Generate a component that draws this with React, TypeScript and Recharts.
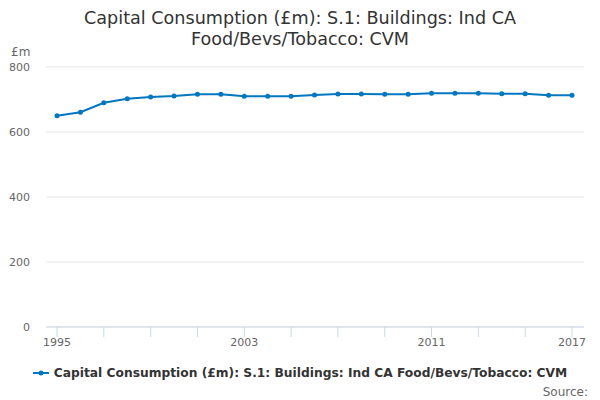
import React from 'react';
import { LineChart, Line, XAxis, YAxis, CartesianGrid } from 'recharts';

const years = [
  1995, 1996, 1997, 1998, 1999, 2000, 2001, 2002, 2003, 2004, 2005, 2006,
  2007, 2008, 2009, 2010, 2011, 2012, 2013, 2014, 2015, 2016, 2017,
];
const values = [
  650, 661, 690, 702, 708, 711, 716, 716, 710, 710, 710, 714,
  717, 717, 716, 716, 719, 719, 719, 718, 718, 713, 713,
];
const xTicks = [1995, 1997, 1999, 2001, 2003, 2005, 2007, 2009, 2011, 2013, 2015, 2017];
const xTickLabels = [1995, 2003, 2011, 2017];
const yTicks = [0, 200, 400, 600, 800];

const seriesName = 'Capital Consumption (£m): S.1: Buildings: Ind CA Food/Bevs/Tobacco: CVM';
const lineColor = '#0077c0';
const font = '"DejaVu Sans", Verdana, sans-serif';

const data = years.map((year, i) => ({ year, value: values[i] }));

const ChartLegend = () => (
  <div
    style={{
      position: 'absolute', top: 366, left: 0, width: 600,
      display: 'flex', alignItems: 'center', justifyContent: 'center',
    }}
  >
    <svg width={16} height={10} style={{ marginRight: 5 }}>
      <line x1={0} y1={5} x2={16} y2={5} stroke={lineColor} strokeWidth={2} />
      <circle cx={8} cy={5} r={2.5} fill={lineColor} />
    </svg>
    <span style={{ fontSize: 12.25, fontWeight: 'bold', color: '#333' }}>{seriesName}</span>
  </div>
);

const App: React.FC = () => {
  return (
    <div style={{ position: 'absolute', left: 0, top: 0, width: 600, height: 400, fontFamily: font }}>
      <div
        style={{
          position: 'absolute', top: 8, left: 0, width: 600, textAlign: 'center',
          fontSize: 17.6, lineHeight: '21px', color: '#333',
        }}
      >
        Capital Consumption (£m): S.1: Buildings: Ind CA
        <br />
        Food/Bevs/Tobacco: CVM
      </div>
      <div style={{ position: 'absolute', top: 45, left: 11, fontSize: 12, color: '#666' }}>£m</div>
      <LineChart width={600} height={400} data={data} margin={{ top: 67, right: 16, bottom: 43, left: 0 }}>
        <CartesianGrid vertical={false} stroke="#e6e6e6" />
        <XAxis
          dataKey="year"
          type="number"
          domain={[1995, 2017]}
          ticks={xTicks}
          interval={0}
          padding={{ left: 11, right: 12 }}
          tickFormatter={(v: number) => (xTickLabels.includes(v) ? String(v) : '')}
          stroke="#ccd6eb"
          tickSize={10}
          tickMargin={1}
          tick={{ fill: '#666', fontSize: 11, fontFamily: font }}
        />
        <YAxis
          domain={[0, 800]}
          ticks={yTicks}
          width={46}
          axisLine={false}
          tickLine={false}
          tickSize={0}
          tickMargin={16}
          tick={{ fill: '#666', fontSize: 11, fontFamily: font }}
        />
        <Line
          dataKey="value"
          name={seriesName}
          stroke={lineColor}
          strokeWidth={2}
          dot={{ r: 2.5, fill: lineColor, stroke: lineColor, strokeWidth: 0 }}
          isAnimationActive={false}
        />
      </LineChart>
      <ChartLegend />
      <div style={{ position: 'absolute', top: 385, right: 12, fontSize: 12, color: '#666' }}>Source:</div>
    </div>
  );
};

export default App;
